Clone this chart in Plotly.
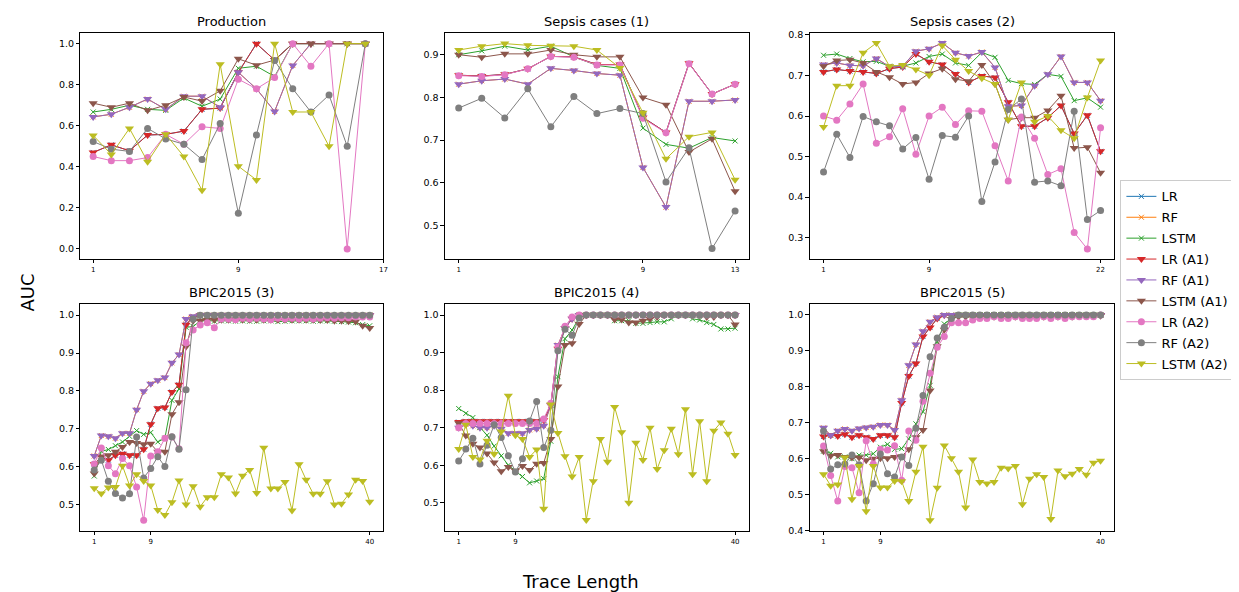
import plotly.graph_objects as go

# ---------------- data ----------------
names = ["LR", "RF", "LSTM", "LR (A1)", "RF (A1)", "LSTM (A1)", "LR (A2)", "RF (A2)", "LSTM (A2)"]
colors = ["#1f77b4", "#ff7f0e", "#2ca02c", "#d62728", "#9467bd", "#8c564b", "#e377c2", "#7f7f7f", "#bcbd22"]
titles = ["Production", "Sepsis cases (1)", "Sepsis cases (2)", "BPIC2015 (3)", "BPIC2015 (4)", "BPIC2015 (5)"]

# Production (trace length 1..16)
prod_lr = [0.47, 0.507, 0.478, 0.555, 0.558, 0.574, 0.68, 0.686, 0.86, 1.0, 0.92, 1.0, 1.0, 1.0, 1.0, 1.0]
prod_rf = [0.643, 0.656, 0.69, 0.73, 0.68, 0.744, 0.744, 0.69, 0.86, 0.78, 0.67, 0.894, 1.0, 1.0, 1.0, 1.0]
prod_lstm = [0.667, 0.68, 0.70, 0.68, 0.675, 0.735, 0.695, 0.73, 0.88, 0.89, 0.84, 1.0, 1.0, 1.0, 1.0, 1.0]
prod_lr_a1 = [0.47, 0.507, 0.478, 0.555, 0.558, 0.574, 0.68, 0.686, 0.86, 1.0, 0.92, 1.0, 1.0, 1.0, 1.0, 1.0]
prod_rf_a1 = [0.643, 0.656, 0.69, 0.73, 0.68, 0.744, 0.744, 0.69, 0.86, 0.78, 0.67, 0.894, 1.0, 1.0, 1.0, 1.0]
prod_lstm_a1 = [0.71, 0.69, 0.71, 0.675, 0.70, 0.74, 0.72, 0.77, 0.926, 0.895, 0.92, 1.0, 1.0, 1.0, 1.0, 1.0]
prod_lr_a2 = [0.45, 0.43, 0.43, 0.445, 0.558, 0.51, 0.595, 0.587, 0.827, 0.78, 0.835, 1.0, 0.89, 1.0, 0.0, 1.0]
prod_rf_a2 = [0.523, 0.486, 0.475, 0.587, 0.536, 0.51, 0.435, 0.611, 0.174, 0.555, 0.918, 0.78, 0.667, 0.75, 0.5, 1.0]
prod_lstm_a2 = [0.553, 0.46, 0.587, 0.425, 0.558, 0.45, 0.286, 0.9, 0.403, 0.336, 1.0, 0.667, 0.667, 0.5, 1.0, 1.0]

# Sepsis cases (1) (1..13)
s1_lr = [0.852, 0.85, 0.854, 0.867, 0.896, 0.895, 0.877, 0.877, 0.753, 0.718, 0.88, 0.808, 0.831]
s1_rf = [0.831, 0.839, 0.843, 0.831, 0.868, 0.863, 0.856, 0.852, 0.636, 0.543, 0.791, 0.791, 0.794]
s1_lstm = [0.9, 0.909, 0.92, 0.911, 0.92, 0.895, 0.875, 0.868, 0.728, 0.69, 0.681, 0.706, 0.698]
s1_lr_a1 = [0.852, 0.85, 0.854, 0.867, 0.896, 0.895, 0.877, 0.877, 0.753, 0.718, 0.88, 0.808, 0.831]
s1_rf_a1 = [0.831, 0.839, 0.843, 0.831, 0.868, 0.863, 0.856, 0.852, 0.636, 0.543, 0.791, 0.791, 0.794]
s1_lstm_a1 = [0.9, 0.894, 0.902, 0.902, 0.911, 0.9, 0.895, 0.895, 0.8, 0.783, 0.672, 0.703, 0.58]
s1_lr_a2 = [0.851, 0.849, 0.853, 0.867, 0.896, 0.894, 0.876, 0.876, 0.751, 0.717, 0.879, 0.808, 0.831]
s1_rf_a2 = [0.775, 0.798, 0.752, 0.82, 0.731, 0.802, 0.762, 0.774, 0.762, 0.602, 0.682, 0.446, 0.534]
s1_lstm_a2 = [0.911, 0.92, 0.926, 0.922, 0.921, 0.92, 0.911, 0.869, 0.764, 0.656, 0.708, 0.718, 0.607]

# Sepsis cases (2) (1..22)
s2_lr = [0.709, 0.715, 0.711, 0.709, 0.705, 0.717, 0.721, 0.753, 0.734, 0.727, 0.704, 0.683, 0.699, 0.695, 0.634, 0.575, 0.575, 0.596, 0.626, 0.557, 0.602, 0.513]
s2_rf = [0.727, 0.731, 0.725, 0.724, 0.742, 0.722, 0.723, 0.760, 0.766, 0.780, 0.756, 0.748, 0.758, 0.720, 0.624, 0.626, 0.675, 0.703, 0.747, 0.683, 0.683, 0.638]
s2_lstm = [0.750, 0.753, 0.742, 0.734, 0.735, 0.723, 0.723, 0.731, 0.747, 0.753, 0.731, 0.725, 0.757, 0.745, 0.688, 0.680, 0.678, 0.703, 0.698, 0.638, 0.645, 0.622]
s2_lr_a1 = [0.709, 0.715, 0.711, 0.709, 0.705, 0.717, 0.721, 0.753, 0.734, 0.727, 0.704, 0.683, 0.699, 0.695, 0.634, 0.575, 0.575, 0.596, 0.626, 0.557, 0.602, 0.513]
s2_rf_a1 = [0.727, 0.731, 0.725, 0.724, 0.742, 0.722, 0.723, 0.760, 0.766, 0.780, 0.756, 0.748, 0.758, 0.720, 0.624, 0.626, 0.675, 0.703, 0.747, 0.683, 0.683, 0.638]
s2_lstm_a1 = [0.723, 0.737, 0.739, 0.731, 0.709, 0.696, 0.679, 0.683, 0.705, 0.717, 0.691, 0.686, 0.726, 0.679, 0.591, 0.596, 0.596, 0.614, 0.650, 0.521, 0.523, 0.460]
s2_lr_a2 = [0.600, 0.590, 0.630, 0.679, 0.533, 0.549, 0.618, 0.506, 0.600, 0.622, 0.579, 0.613, 0.612, 0.527, 0.440, 0.598, 0.545, 0.456, 0.470, 0.313, 0.272, 0.571]
s2_rf_a2 = [0.462, 0.555, 0.498, 0.599, 0.586, 0.576, 0.519, 0.547, 0.444, 0.552, 0.548, 0.600, 0.389, 0.487, 0.616, 0.642, 0.437, 0.440, 0.428, 0.612, 0.345, 0.367]
s2_lstm_a2 = [0.573, 0.675, 0.675, 0.756, 0.780, 0.723, 0.726, 0.715, 0.701, 0.774, 0.739, 0.711, 0.693, 0.679, 0.591, 0.683, 0.586, 0.600, 0.565, 0.545, 0.646, 0.737]

# BPIC2015 (3) (1..40)
b3_lr = [0.606, 0.626, 0.617, 0.630, 0.634, 0.630, 0.630, 0.646, 0.712, 0.754, 0.756, 0.797, 0.816, 0.975, 0.995, 1.0, 1.0, 1.0, 1.0, 1.0,
         1.0, 1.0, 1.0, 1.0, 1.0, 1.0, 1.0, 1.0, 1.0, 1.0, 1.0, 1.0, 1.0, 1.0, 1.0, 1.0, 1.0, 1.0, 1.0, 1.0]
b3_rf = [0.628, 0.682, 0.680, 0.675, 0.688, 0.688, 0.750, 0.799, 0.819, 0.828, 0.835, 0.874, 0.896, 0.990, 0.997, 1.0, 1.0, 1.0, 1.0, 1.0,
         1.0, 1.0, 1.0, 1.0, 1.0, 1.0, 1.0, 1.0, 1.0, 1.0, 1.0, 1.0, 1.0, 1.0, 1.0, 1.0, 1.0, 1.0, 1.0, 1.0]
b3_lstm = [0.575, 0.640, 0.645, 0.655, 0.665, 0.680, 0.695, 0.685, 0.690, 0.665, 0.675, 0.775, 0.805, 0.968, 0.970, 0.985, 0.985, 0.984, 0.985, 0.985,
           0.984, 0.985, 0.984, 0.984, 0.985, 0.985, 0.983, 0.984, 0.985, 0.985, 0.985, 0.984, 0.985, 0.985, 0.984, 0.983, 0.982, 0.980, 0.975, 0.972]
b3_lr_a1 = [0.606, 0.626, 0.617, 0.630, 0.634, 0.630, 0.630, 0.646, 0.712, 0.754, 0.756, 0.797, 0.816, 0.975, 0.995, 1.0, 1.0, 1.0, 1.0, 1.0,
            1.0, 1.0, 1.0, 1.0, 1.0, 1.0, 1.0, 1.0, 1.0, 1.0, 1.0, 1.0, 1.0, 1.0, 1.0, 1.0, 1.0, 1.0, 1.0, 1.0]
b3_rf_a1 = [0.628, 0.682, 0.680, 0.675, 0.688, 0.688, 0.750, 0.799, 0.819, 0.828, 0.835, 0.874, 0.896, 0.990, 0.997, 1.0, 1.0, 1.0, 1.0, 1.0,
            1.0, 1.0, 1.0, 1.0, 1.0, 1.0, 1.0, 1.0, 1.0, 1.0, 1.0, 1.0, 1.0, 1.0, 1.0, 1.0, 1.0, 1.0, 1.0, 1.0]
b3_lstm_a1 = [0.582, 0.626, 0.630, 0.639, 0.652, 0.665, 0.662, 0.659, 0.660, 0.639, 0.639, 0.738, 0.770, 0.917, 0.985, 0.985, 0.987, 0.988, 0.988, 0.988,
              0.988, 0.988, 0.988, 0.988, 0.988, 0.988, 0.988, 0.988, 0.988, 0.988, 0.988, 0.988, 0.987, 0.987, 0.985, 0.985, 0.984, 0.983, 0.972, 0.966]
b3_lr_a2 = [0.607, 0.649, 0.602, 0.581, 0.621, 0.602, 0.546, 0.458, 0.628, 0.639, 0.675, 0.678, 0.647, 0.927, 0.961, 0.974, 0.980, 0.967, 0.990, 0.990,
            0.988, 0.992, 0.990, 0.992, 0.990, 0.988, 0.992, 0.990, 0.992, 0.990, 0.992, 0.990, 0.992, 0.993, 0.992, 0.993, 0.993, 0.995, 0.995, 0.995]
b3_rf_a2 = [0.591, 0.617, 0.561, 0.529, 0.517, 0.528, 0.678, 0.570, 0.595, 0.626, 0.600, 0.679, 0.646, 0.803, 0.990, 1.0, 1.0, 1.0, 1.0, 1.0,
            1.0, 1.0, 1.0, 1.0, 1.0, 1.0, 1.0, 1.0, 1.0, 1.0, 1.0, 1.0, 1.0, 1.0, 1.0, 1.0, 1.0, 1.0, 1.0, 1.0]
b3_lstm_a2 = [0.543, 0.529, 0.545, 0.546, 0.602, 0.550, 0.580, 0.562, 0.550, 0.485, 0.472, 0.506, 0.563, 0.500, 0.548, 0.494, 0.519, 0.519, 0.580, 0.571,
              0.529, 0.576, 0.591, 0.530, 0.650, 0.542, 0.542, 0.559, 0.484, 0.606, 0.565, 0.528, 0.528, 0.561, 0.500, 0.502, 0.526, 0.565, 0.562, 0.507]

# BPIC2015 (4) (1..40)
b4_lr = [0.715, 0.717, 0.717, 0.717, 0.717, 0.717, 0.717, 0.717, 0.717, 0.717, 0.717, 0.717, 0.720, 0.760, 0.910, 0.965, 0.990, 1.0, 1.0, 1.0,
         1.0, 1.0, 1.0, 1.0, 1.0, 1.0, 1.0, 1.0, 1.0, 1.0, 1.0, 1.0, 1.0, 1.0, 1.0, 1.0, 1.0, 1.0, 1.0, 1.0]
b4_rf = [0.700, 0.710, 0.705, 0.700, 0.700, 0.705, 0.697, 0.685, 0.685, 0.685, 0.694, 0.697, 0.705, 0.760, 0.920, 0.965, 0.990, 1.0, 1.0, 1.0,
         1.0, 1.0, 1.0, 1.0, 1.0, 1.0, 1.0, 1.0, 1.0, 1.0, 1.0, 1.0, 1.0, 1.0, 1.0, 1.0, 1.0, 1.0, 1.0, 1.0]
b4_lstm = [0.751, 0.738, 0.727, 0.701, 0.680, 0.651, 0.625, 0.600, 0.585, 0.570, 0.553, 0.558, 0.564, 0.664, 0.836, 0.937, 0.960, 0.993, 1.0, 1.0,
           1.0, 1.0, 0.985, 0.985, 0.985, 0.978, 0.978, 0.980, 0.982, 0.982, 0.990, 1.0, 1.0, 0.990, 0.987, 0.980, 0.975, 0.963, 0.963, 0.965]
b4_lr_a1 = [0.715, 0.717, 0.717, 0.717, 0.717, 0.717, 0.717, 0.717, 0.717, 0.717, 0.717, 0.717, 0.720, 0.760, 0.910, 0.965, 0.990, 1.0, 1.0, 1.0,
            1.0, 1.0, 1.0, 1.0, 1.0, 1.0, 1.0, 1.0, 1.0, 1.0, 1.0, 1.0, 1.0, 1.0, 1.0, 1.0, 1.0, 1.0, 1.0, 1.0]
b4_rf_a1 = [0.700, 0.710, 0.705, 0.700, 0.700, 0.705, 0.697, 0.685, 0.685, 0.685, 0.694, 0.697, 0.705, 0.760, 0.920, 0.965, 0.990, 1.0, 1.0, 1.0,
            1.0, 1.0, 1.0, 1.0, 1.0, 1.0, 1.0, 1.0, 1.0, 1.0, 1.0, 1.0, 1.0, 1.0, 1.0, 1.0, 1.0, 1.0, 1.0, 1.0]
b4_lstm_a1 = [0.712, 0.679, 0.657, 0.647, 0.631, 0.607, 0.584, 0.595, 0.585, 0.598, 0.587, 0.604, 0.606, 0.670, 0.810, 0.920, 0.925, 0.976, 1.0, 1.0,
              1.0, 1.0, 0.988, 0.988, 0.980, 0.980, 0.985, 0.990, 0.995, 1.0, 1.0, 1.0, 1.0, 1.0, 1.0, 0.995, 0.995, 1.0, 1.0, 0.975]
b4_lr_a2 = [0.700, 0.711, 0.711, 0.711, 0.711, 0.711, 0.711, 0.711, 0.711, 0.711, 0.711, 0.711, 0.723, 0.765, 0.915, 0.970, 0.995, 1.0, 1.0, 1.0,
            1.0, 1.0, 1.0, 1.0, 1.0, 1.0, 1.0, 1.0, 1.0, 1.0, 1.0, 1.0, 1.0, 1.0, 1.0, 1.0, 1.0, 1.0, 1.0, 1.0]
b4_rf_a2 = [0.611, 0.643, 0.672, 0.603, 0.653, 0.708, 0.674, 0.625, 0.582, 0.617, 0.718, 0.770, 0.647, 0.693, 0.905, 0.962, 0.946, 0.992, 1.0, 1.0,
            1.0, 1.0, 1.0, 1.0, 1.0, 1.0, 1.0, 1.0, 1.0, 1.0, 1.0, 1.0, 1.0, 1.0, 1.0, 1.0, 1.0, 1.0, 1.0, 1.0]
b4_lstm_a2 = [0.643, 0.708, 0.622, 0.615, 0.665, 0.630, 0.690, 0.785, 0.680, 0.670, 0.622, 0.642, 0.484, 0.762, 0.686, 0.624, 0.570, 0.622, 0.454, 0.557,
              0.670, 0.609, 0.755, 0.688, 0.500, 0.660, 0.614, 0.700, 0.590, 0.640, 0.697, 0.629, 0.749, 0.576, 0.717, 0.557, 0.692, 0.714, 0.684, 0.627]

# BPIC2015 (5) (1..40)
b5_lr = [0.662, 0.665, 0.663, 0.668, 0.660, 0.665, 0.660, 0.655, 0.665, 0.665, 0.660, 0.755, 0.830, 0.865, 0.940, 0.965, 0.990, 1.0, 1.0, 1.0,
         1.0, 1.0, 1.0, 1.0, 1.0, 1.0, 1.0, 1.0, 1.0, 1.0, 1.0, 1.0, 1.0, 1.0, 1.0, 1.0, 1.0, 1.0, 1.0, 1.0]
b5_rf = [0.686, 0.665, 0.678, 0.683, 0.678, 0.684, 0.687, 0.689, 0.694, 0.694, 0.680, 0.763, 0.860, 0.918, 0.955, 0.981, 0.994, 1.0, 1.0, 1.0,
         1.0, 1.0, 1.0, 1.0, 1.0, 1.0, 1.0, 1.0, 1.0, 1.0, 1.0, 1.0, 1.0, 1.0, 1.0, 1.0, 1.0, 1.0, 1.0, 1.0]
b5_lstm = [0.621, 0.615, 0.605, 0.605, 0.600, 0.610, 0.610, 0.614, 0.632, 0.640, 0.626, 0.628, 0.655, 0.697, 0.731, 0.804, 0.925, 0.975, 0.991, 1.0,
           1.0, 1.0, 1.0, 1.0, 1.0, 1.0, 1.0, 1.0, 1.0, 1.0, 1.0, 1.0, 1.0, 1.0, 1.0, 1.0, 1.0, 1.0, 1.0, 1.0]
b5_lr_a1 = [0.662, 0.665, 0.663, 0.668, 0.660, 0.665, 0.660, 0.655, 0.665, 0.665, 0.660, 0.755, 0.830, 0.865, 0.940, 0.965, 0.990, 1.0, 1.0, 1.0,
            1.0, 1.0, 1.0, 1.0, 1.0, 1.0, 1.0, 1.0, 1.0, 1.0, 1.0, 1.0, 1.0, 1.0, 1.0, 1.0, 1.0, 1.0, 1.0, 1.0]
b5_rf_a1 = [0.686, 0.665, 0.678, 0.683, 0.678, 0.684, 0.687, 0.689, 0.694, 0.694, 0.680, 0.763, 0.860, 0.918, 0.955, 0.981, 0.994, 1.0, 1.0, 1.0,
            1.0, 1.0, 1.0, 1.0, 1.0, 1.0, 1.0, 1.0, 1.0, 1.0, 1.0, 1.0, 1.0, 1.0, 1.0, 1.0, 1.0, 1.0, 1.0, 1.0]
b5_lstm_a1 = [0.621, 0.608, 0.610, 0.605, 0.603, 0.603, 0.596, 0.600, 0.601, 0.601, 0.605, 0.607, 0.626, 0.660, 0.680, 0.790, 0.913, 0.959, 0.989, 0.995,
              0.995, 0.995, 0.995, 0.995, 0.995, 0.995, 0.995, 0.995, 0.995, 0.995, 0.995, 0.995, 0.995, 0.995, 0.995, 0.995, 0.998, 0.998, 0.998, 0.998]
b5_lr_a2 = [0.635, 0.553, 0.482, 0.578, 0.575, 0.505, 0.650, 0.585, 0.626, 0.624, 0.636, 0.540, 0.677, 0.651, 0.760, 0.838, 0.910, 0.940, 0.978, 0.978,
            0.978, 0.986, 0.990, 0.990, 0.995, 0.990, 0.990, 0.995, 0.990, 0.990, 0.990, 0.995, 0.990, 0.995, 0.990, 0.995, 0.995, 0.995, 0.995, 1.0]
b5_rf_a2 = [0.677, 0.571, 0.583, 0.585, 0.610, 0.583, 0.482, 0.530, 0.613, 0.558, 0.549, 0.605, 0.581, 0.685, 0.776, 0.884, 0.936, 0.966, 0.990, 1.0,
            1.0, 1.0, 1.0, 1.0, 1.0, 1.0, 1.0, 1.0, 1.0, 1.0, 1.0, 1.0, 1.0, 1.0, 1.0, 1.0, 1.0, 1.0, 1.0, 1.0]
b5_lstm_a2 = [0.557, 0.525, 0.528, 0.603, 0.487, 0.580, 0.454, 0.580, 0.520, 0.520, 0.538, 0.537, 0.482, 0.564, 0.633, 0.429, 0.519, 0.637, 0.601, 0.564,
              0.464, 0.598, 0.535, 0.531, 0.535, 0.575, 0.573, 0.580, 0.473, 0.544, 0.557, 0.549, 0.432, 0.567, 0.551, 0.558, 0.571, 0.555, 0.589, 0.594]

x_ticks = [[1, 9, 17], [1, 9, 13], [1, 9, 22], [1, 9, 40], [1, 9, 40], [1, 9, 40]]

panels = [
    [prod_lr, prod_rf, prod_lstm, prod_lr_a1, prod_rf_a1, prod_lstm_a1, prod_lr_a2, prod_rf_a2, prod_lstm_a2],
    [s1_lr, s1_rf, s1_lstm, s1_lr_a1, s1_rf_a1, s1_lstm_a1, s1_lr_a2, s1_rf_a2, s1_lstm_a2],
    [s2_lr, s2_rf, s2_lstm, s2_lr_a1, s2_rf_a1, s2_lstm_a1, s2_lr_a2, s2_rf_a2, s2_lstm_a2],
    [b3_lr, b3_rf, b3_lstm, b3_lr_a1, b3_rf_a1, b3_lstm_a1, b3_lr_a2, b3_rf_a2, b3_lstm_a2],
    [b4_lr, b4_rf, b4_lstm, b4_lr_a1, b4_rf_a1, b4_lstm_a1, b4_lr_a2, b4_rf_a2, b4_lstm_a2],
    [b5_lr, b5_rf, b5_lstm, b5_lr_a1, b5_rf_a1, b5_lstm_a1, b5_lr_a2, b5_rf_a2, b5_lstm_a2],
]

# ---------------- layout / style ----------------
W, H = 1239, 592
FONT = "DejaVu Sans, Verdana, sans-serif"
symbols = ["x-thin", "x-thin", "x-thin", "triangle-down", "triangle-down", "triangle-down", "circle", "circle", "triangle-down"]
msizes = [5, 5, 5, 8, 8, 8, 7, 7, 8]

# pixel boxes of the axes (left, right, top, bottom)
col_px = [(72.7, 376.7), (438.3, 743.3), (804.3, 1110.0)]
row_px = [(21.7, 251.0), (296.7, 527.3)]
x_ranges = [[0.3, 17.0], [0.4, 13.6], [-0.05, 23.05], [-0.95, 41.95], [-0.95, 41.95], [-0.95, 41.95]]
y_ranges = [[-0.05, 1.05], [0.421, 0.950], [0.247, 0.804], [0.429, 1.029], [0.424, 1.029], [0.398, 1.030]]
y_dticks = [0.2, 0.1, 0.1, 0.1, 0.1, 0.1]

fig = go.Figure()
layout = dict(
    width=W, height=H,
    margin=dict(l=0, r=0, t=0, b=0),
    paper_bgcolor="white", plot_bgcolor="white",
    font=dict(family=FONT, color="black"),
    showlegend=True,
    legend=dict(x=1116 / W, y=1 - 171 / H, xanchor="left", yanchor="top",
                bordercolor="#cccccc", borderwidth=1, bgcolor="white",
                font=dict(size=13, family=FONT), tracegroupgap=1, itemwidth=30),
)
annotations = []

for p in range(6):
    r, c = divmod(p, 3)
    xl, xr = col_px[c]
    yt, yb = row_px[r]
    axn = "" if p == 0 else str(p + 1)
    layout["xaxis" + axn] = dict(
        domain=[xl / W, xr / W], anchor="y" + axn, range=x_ranges[p],
        tickmode="array", tickvals=x_ticks[p], ticktext=[str(v) for v in x_ticks[p]],
        tickfont=dict(size=7, family=FONT), ticks="outside", ticklen=3, tickwidth=0.8, tickcolor="black",
        showline=True, linecolor="black", linewidth=1, mirror=True, showgrid=False, zeroline=False)
    layout["yaxis" + axn] = dict(
        domain=[1 - yb / H, 1 - yt / H], anchor="x" + axn, range=y_ranges[p],
        dtick=y_dticks[p], tick0=0, tickformat=".1f",
        tickfont=dict(size=9.5, family=FONT), ticks="outside", ticklen=3.5, tickwidth=0.8, tickcolor="black",
        showline=True, linecolor="black", linewidth=1, mirror=True, showgrid=False, zeroline=False)
    annotations.append(dict(text=titles[p], x=(xl + xr) / 2 / W, y=1 - yt / H, xref="paper", yref="paper",
                            xanchor="center", yanchor="bottom", yshift=2, showarrow=False,
                            font=dict(size=13, family=FONT, color="black")))
    for k in range(9):
        ys = panels[p][k]
        xs = list(range(1, len(ys) + 1))
        fig.add_trace(go.Scatter(
            x=xs, y=ys, mode="lines+markers", name=names[k], legendgroup=names[k],
            showlegend=(p == 0), xaxis="x" + axn, yaxis="y" + axn,
            line=dict(color=colors[k], width=1),
            marker=dict(symbol=symbols[k], size=msizes[k], color=colors[k],
                        line=dict(color=colors[k], width=1 if k < 3 else 0)),
            cliponaxis=True))

annotations.append(dict(text="AUC", x=20 / W, y=1 - 285 / H, xref="paper", yref="paper",
                        xanchor="center", yanchor="middle", textangle=-90, showarrow=False,
                        font=dict(size=18, family=FONT, color="black")))
annotations.append(dict(text="Trace Length", x=574 / W, y=1 - 578 / H, xref="paper", yref="paper",
                        xanchor="center", yanchor="middle", showarrow=False,
                        font=dict(size=18, family=FONT, color="black")))
layout["annotations"] = annotations
fig.update_layout(**layout)
fig.write_html("out.html")
